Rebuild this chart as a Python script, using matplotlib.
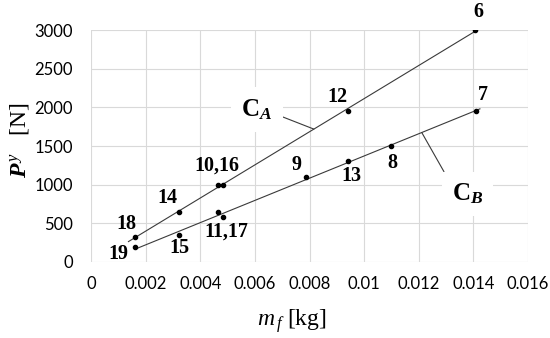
import numpy as np
import matplotlib
matplotlib.use('Agg')
import matplotlib.pyplot as plt

plt.rcParams['mathtext.fontset'] = 'custom'
plt.rcParams['mathtext.rm'] = 'Liberation Serif'
plt.rcParams['mathtext.it'] = 'Liberation Serif:italic'
plt.rcParams['mathtext.bf'] = 'Liberation Serif:bold'
plt.rcParams['mathtext.bfit'] = 'Liberation Serif:bold:italic'

# curve C_A points (mass [kg], force [N])
mass_a = [0.00162, 0.00323, 0.00466, 0.00482, 0.0094, 0.01406]
force_a = [320, 650, 1000, 1000, 1950, 3000]
# curve C_B points
mass_b = [0.00162, 0.00323, 0.00466, 0.00482, 0.00787, 0.0094, 0.011, 0.01408]
force_b = [190, 350, 650, 580, 1100, 1300, 1500, 1950]

# test number labels: (text, x, y, offset in pixels)
point_labels = [
    ('6', 0.01406, 3000, (3, 18)),
    ('12', 0.0094, 1950, (-10, 14)),
    ('7', 0.01408, 1950, (7, 16)),
    ('8', 0.011, 1500, (1, -17)),
    ('13', 0.0094, 1300, (4, -15)),
    ('9', 0.00787, 1100, (-9, 12)),
    ('10,16', 0.00474, 1000, (-4, 19)),
    ('14', 0.00323, 650, (-12, 14)),
    ('18', 0.00162, 320, (-9, 13)),
    ('19', 0.00162, 190, (-17, -7)),
    ('15', 0.00323, 350, (0, -13)),
    ('11,17', 0.00474, 615, (6, -17)),
]

# fitted lines drawn over these mass ranges
range_a = [0.00137, 0.01437]
range_b = [0.00162, 0.01424]

fig = plt.figure(figsize=(5.5, 3.38), dpi=100)
ax = fig.add_axes([0.1655, 0.2249, 0.7945, 0.6861])

for m, f, rng in [(mass_a, force_a, range_a), (mass_b, force_b, range_b)]:
    k, b = np.polyfit(m, f, 1)
    xs = np.array(rng)
    ax.plot(xs, k * xs + b, color='#3a3a3a', lw=0.8, zorder=3)
    ax.plot(m, f, 'o', color='black', ms=3, zorder=4)

for txt, x, y, off in point_labels:
    ax.annotate(txt, (x, y), xytext=off, textcoords='offset pixels',
                ha='center', va='center', fontsize=14.5, fontweight='bold',
                family='Liberation Serif', zorder=5)

# curve name labels with leader lines
ka, ba = np.polyfit(mass_a, force_a, 1)
kb, bb = np.polyfit(mass_b, force_b, 1)
ax.annotate(r'$\mathbf{C}_{\boldsymbol{A}}$', xy=(0.00816, ka * 0.00816 + ba),
            xytext=(0.00608, 1975), ha='center', va='center', fontsize=18,
            bbox=dict(boxstyle='square,pad=0.4', fc='white', ec='none'),
            arrowprops=dict(arrowstyle='-', color='#3a3a3a', lw=0.8,
                            relpos=(1.0, 0.35), shrinkA=0, shrinkB=0),
            zorder=2)
ax.annotate(r'$\mathbf{C}_{\boldsymbol{B}}$', xy=(0.01211, kb * 0.01211 + bb),
            xytext=(0.01378, 880), ha='center', va='center', fontsize=18,
            bbox=dict(boxstyle='square,pad=0.4', fc='white', ec='none'),
            arrowprops=dict(arrowstyle='-', color='#3a3a3a', lw=0.8,
                            relpos=(0.0, 0.85), shrinkA=0, shrinkB=0),
            zorder=2)

ax.set_xlim(0, 0.016)
ax.set_ylim(0, 3000)
ax.set_xticks(np.arange(0, 0.0161, 0.002))
ax.set_xticklabels(['0', '0.002', '0.004', '0.006', '0.008', '0.01',
                    '0.012', '0.014', '0.016'])
ax.set_yticks(range(0, 3001, 500))
ax.grid(True, color='#d9d9d9', lw=0.8, zorder=0)
ax.set_axisbelow(True)
for s in ax.spines.values():
    s.set_visible(False)
ax.tick_params(length=0, labelsize=12, pad=10)
ax.tick_params(axis='y', pad=13)
for lab in ax.get_xticklabels() + ax.get_yticklabels():
    lab.set_family('Lato')

fig.text(0.035, 0.585, r'$\boldsymbol{P}^{\,y}$   [N]', rotation=90,
         ha='center', va='center', fontsize=17, family='Liberation Serif')
fig.text(0.53, 0.05, r'$m_{\,f}$ [kg]', ha='center', va='center',
         fontsize=17, family='Liberation Serif')

fig.savefig('out.png', dpi=100)
